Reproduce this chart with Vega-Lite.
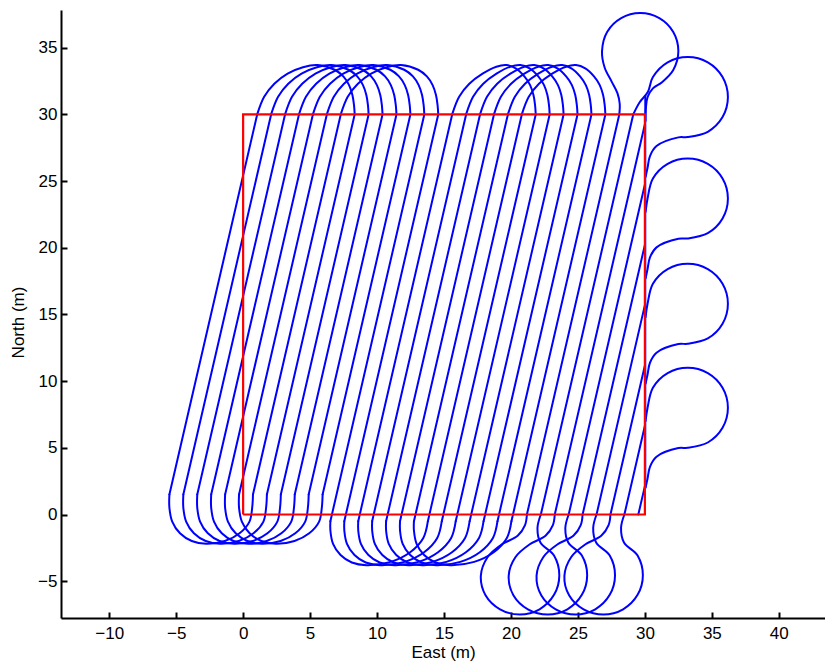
{
  "$schema": "https://vega.github.io/schema/vega-lite/v6.json",
  "width": 764,
  "height": 608,
  "autosize": {"type": "none"},
  "padding": {"left": 61, "top": 10, "right": 0, "bottom": 50},
  "background": "white",
  "config": {
    "view": {"stroke": null},
    "axis": {
      "grid": false,
      "domainColor": "black",
      "domainWidth": 2,
      "tickColor": "black",
      "tickWidth": 2,
      "tickSize": -6,
      "labelFont": "Liberation Sans",
      "labelFontSize": 17,
      "labelColor": "black",
      "titleFont": "Liberation Sans",
      "titleFontSize": 17,
      "titleFontWeight": "normal",
      "titleColor": "black"
    }
  },
  "datasets": {
    "path": [
      {"s":"T0","i":0,"x":-5.505,"y":1.5},{"s":"T0","i":1,"x":1.05,"y":30},
      {"s":"T1","i":0,"x":-4.465,"y":1.5},{"s":"T1","i":1,"x":2.09,"y":30},
      {"s":"T2","i":0,"x":-3.425,"y":1.5},{"s":"T2","i":1,"x":3.13,"y":30},
      {"s":"T3","i":0,"x":-2.385,"y":1.5},{"s":"T3","i":1,"x":4.17,"y":30},
      {"s":"T4","i":0,"x":-1.345,"y":1.5},{"s":"T4","i":1,"x":5.21,"y":30},
      {"s":"T5","i":0,"x":-0.305,"y":1.5},{"s":"T5","i":1,"x":6.25,"y":30},
      {"s":"T6","i":0,"x":0.735,"y":1.5},{"s":"T6","i":1,"x":7.29,"y":30},
      {"s":"T7","i":0,"x":1.775,"y":1.5},{"s":"T7","i":1,"x":8.33,"y":30},
      {"s":"T8","i":0,"x":2.815,"y":1.5},{"s":"T8","i":1,"x":9.37,"y":30},
      {"s":"T9","i":0,"x":3.855,"y":1.5},{"s":"T9","i":1,"x":10.41,"y":30},
      {"s":"T10","i":0,"x":4.895,"y":1.5},{"s":"T10","i":1,"x":11.45,"y":30},
      {"s":"T11","i":0,"x":5.935,"y":1.5},{"s":"T11","i":1,"x":12.49,"y":30},
      {"s":"T12","i":0,"x":6.515,"y":-0.5},{"s":"T12","i":1,"x":13.53,"y":30},
      {"s":"T13","i":0,"x":7.555,"y":-0.5},{"s":"T13","i":1,"x":14.57,"y":30},
      {"s":"T14","i":0,"x":8.595,"y":-0.5},{"s":"T14","i":1,"x":15.61,"y":30},
      {"s":"T15","i":0,"x":9.635,"y":-0.5},{"s":"T15","i":1,"x":16.65,"y":30},
      {"s":"T16","i":0,"x":10.675,"y":-0.5},{"s":"T16","i":1,"x":17.69,"y":30},
      {"s":"T17","i":0,"x":11.715,"y":-0.5},{"s":"T17","i":1,"x":18.73,"y":30},
      {"s":"T18","i":0,"x":12.755,"y":-0.5},{"s":"T18","i":1,"x":19.77,"y":30},
      {"s":"T19","i":0,"x":13.795,"y":-0.5},{"s":"T19","i":1,"x":20.81,"y":30},
      {"s":"T20","i":0,"x":14.835,"y":-0.5},{"s":"T20","i":1,"x":21.85,"y":30},
      {"s":"T21","i":0,"x":15.875,"y":-0.5},{"s":"T21","i":1,"x":22.89,"y":30},
      {"s":"T22","i":0,"x":16.915,"y":-0.5},{"s":"T22","i":1,"x":23.93,"y":30},
      {"s":"T23","i":0,"x":17.955,"y":-0.5},{"s":"T23","i":1,"x":24.97,"y":30},
      {"s":"T24","i":0,"x":18.995,"y":-0.5},{"s":"T24","i":1,"x":26.01,"y":30},
      {"s":"T25","i":0,"x":20.035,"y":-0.5},{"s":"T25","i":1,"x":27.05,"y":30},
      {"s":"T26","i":0,"x":21.19,"y":0},{"s":"T26","i":1,"x":28.09,"y":30},
      {"s":"T27","i":0,"x":22.23,"y":0},{"s":"T27","i":1,"x":29.13,"y":30},
      {"s":"T28","i":0,"x":23.27,"y":0},{"s":"T28","i":1,"x":30,"y":29.26},
      {"s":"T29","i":0,"x":24.31,"y":0},{"s":"T29","i":1,"x":30,"y":24.74},
      {"s":"T30","i":0,"x":25.35,"y":0},{"s":"T30","i":1,"x":30,"y":20.22},
      {"s":"T31","i":0,"x":26.39,"y":0},{"s":"T31","i":1,"x":30,"y":15.7},
      {"s":"T32","i":0,"x":27.43,"y":0},{"s":"T32","i":1,"x":30,"y":11.17},
      {"s":"T33","i":0,"x":28.47,"y":0},{"s":"T33","i":1,"x":30,"y":6.65},
      {"s":"T34","i":0,"x":29.51,"y":0},{"s":"T34","i":1,"x":30,"y":2.13},
      {"s":"E","i":0,"x":30.03,"y":2},{"s":"E","i":1,"x":30.03,"y":31.4},

      {"s":"A0","i":0,"x":-5.505,"y":1.5},{"s":"A0","i":1,"x":-5.505,"y":0.5},{"s":"A0","i":2,"x":-5.295,"y":-0.53},{"s":"A0","i":3,"x":-4.715,"y":-1.41},{"s":"A0","i":4,"x":-3.835,"y":-1.99},{"s":"A0","i":5,"x":-2.755,"y":-2.2},{"s":"A0","i":6,"x":-1.365,"y":-1.99},{"s":"A0","i":7,"x":-0.265,"y":-1.41},{"s":"A0","i":8,"x":0.475,"y":-0.53},{"s":"A0","i":9,"x":0.675,"y":0.5},{"s":"A0","i":10,"x":0.735,"y":1.5},
      {"s":"A1","i":0,"x":-4.465,"y":1.5},{"s":"A1","i":1,"x":-4.465,"y":0.5},{"s":"A1","i":2,"x":-4.255,"y":-0.53},{"s":"A1","i":3,"x":-3.675,"y":-1.41},{"s":"A1","i":4,"x":-2.795,"y":-1.99},{"s":"A1","i":5,"x":-1.715,"y":-2.2},{"s":"A1","i":6,"x":-0.325,"y":-1.99},{"s":"A1","i":7,"x":0.775,"y":-1.41},{"s":"A1","i":8,"x":1.515,"y":-0.53},{"s":"A1","i":9,"x":1.715,"y":0.5},{"s":"A1","i":10,"x":1.775,"y":1.5},
      {"s":"A2","i":0,"x":-3.425,"y":1.5},{"s":"A2","i":1,"x":-3.425,"y":0.5},{"s":"A2","i":2,"x":-3.215,"y":-0.53},{"s":"A2","i":3,"x":-2.635,"y":-1.41},{"s":"A2","i":4,"x":-1.755,"y":-1.99},{"s":"A2","i":5,"x":-0.675,"y":-2.2},{"s":"A2","i":6,"x":0.715,"y":-1.99},{"s":"A2","i":7,"x":1.815,"y":-1.41},{"s":"A2","i":8,"x":2.555,"y":-0.53},{"s":"A2","i":9,"x":2.755,"y":0.5},{"s":"A2","i":10,"x":2.815,"y":1.5},
      {"s":"A3","i":0,"x":-2.385,"y":1.5},{"s":"A3","i":1,"x":-2.385,"y":0.5},{"s":"A3","i":2,"x":-2.175,"y":-0.53},{"s":"A3","i":3,"x":-1.595,"y":-1.41},{"s":"A3","i":4,"x":-0.715,"y":-1.99},{"s":"A3","i":5,"x":0.365,"y":-2.2},{"s":"A3","i":6,"x":1.755,"y":-1.99},{"s":"A3","i":7,"x":2.855,"y":-1.41},{"s":"A3","i":8,"x":3.595,"y":-0.53},{"s":"A3","i":9,"x":3.795,"y":0.5},{"s":"A3","i":10,"x":3.855,"y":1.5},
      {"s":"A4","i":0,"x":-1.345,"y":1.5},{"s":"A4","i":1,"x":-1.345,"y":0.5},{"s":"A4","i":2,"x":-1.135,"y":-0.53},{"s":"A4","i":3,"x":-0.555,"y":-1.41},{"s":"A4","i":4,"x":0.325,"y":-1.99},{"s":"A4","i":5,"x":1.405,"y":-2.2},{"s":"A4","i":6,"x":2.795,"y":-1.99},{"s":"A4","i":7,"x":3.895,"y":-1.41},{"s":"A4","i":8,"x":4.635,"y":-0.53},{"s":"A4","i":9,"x":4.835,"y":0.5},{"s":"A4","i":10,"x":4.895,"y":1.5},
      {"s":"A5","i":0,"x":-0.305,"y":1.5},{"s":"A5","i":1,"x":-0.305,"y":0.5},{"s":"A5","i":2,"x":-0.095,"y":-0.53},{"s":"A5","i":3,"x":0.485,"y":-1.41},{"s":"A5","i":4,"x":1.365,"y":-1.99},{"s":"A5","i":5,"x":2.445,"y":-2.2},{"s":"A5","i":6,"x":3.835,"y":-1.99},{"s":"A5","i":7,"x":4.935,"y":-1.41},{"s":"A5","i":8,"x":5.675,"y":-0.53},{"s":"A5","i":9,"x":5.875,"y":0.5},{"s":"A5","i":10,"x":5.935,"y":1.5},

      {"s":"B12","i":0,"x":6.515,"y":-0.5},{"s":"B12","i":1,"x":6.515,"y":-1.2},{"s":"B12","i":2,"x":6.715,"y":-2.2},{"s":"B12","i":3,"x":7.275,"y":-3.04},{"s":"B12","i":4,"x":8.115,"y":-3.6},{"s":"B12","i":5,"x":9.215,"y":-3.8},{"s":"B12","i":6,"x":11.015,"y":-3.55},{"s":"B12","i":7,"x":12.475,"y":-2.83},{"s":"B12","i":8,"x":13.455,"y":-1.76},{"s":"B12","i":9,"x":13.795,"y":-0.5},
      {"s":"B13","i":0,"x":7.555,"y":-0.5},{"s":"B13","i":1,"x":7.555,"y":-1.2},{"s":"B13","i":2,"x":7.755,"y":-2.2},{"s":"B13","i":3,"x":8.315,"y":-3.04},{"s":"B13","i":4,"x":9.155,"y":-3.6},{"s":"B13","i":5,"x":10.255,"y":-3.8},{"s":"B13","i":6,"x":12.055,"y":-3.55},{"s":"B13","i":7,"x":13.515,"y":-2.83},{"s":"B13","i":8,"x":14.495,"y":-1.76},{"s":"B13","i":9,"x":14.835,"y":-0.5},
      {"s":"B14","i":0,"x":8.595,"y":-0.5},{"s":"B14","i":1,"x":8.595,"y":-1.2},{"s":"B14","i":2,"x":8.795,"y":-2.2},{"s":"B14","i":3,"x":9.355,"y":-3.04},{"s":"B14","i":4,"x":10.195,"y":-3.6},{"s":"B14","i":5,"x":11.295,"y":-3.8},{"s":"B14","i":6,"x":13.095,"y":-3.55},{"s":"B14","i":7,"x":14.555,"y":-2.83},{"s":"B14","i":8,"x":15.535,"y":-1.76},{"s":"B14","i":9,"x":15.875,"y":-0.5},
      {"s":"B15","i":0,"x":9.635,"y":-0.5},{"s":"B15","i":1,"x":9.635,"y":-1.2},{"s":"B15","i":2,"x":9.835,"y":-2.2},{"s":"B15","i":3,"x":10.395,"y":-3.04},{"s":"B15","i":4,"x":11.235,"y":-3.6},{"s":"B15","i":5,"x":12.335,"y":-3.8},{"s":"B15","i":6,"x":14.135,"y":-3.55},{"s":"B15","i":7,"x":15.595,"y":-2.83},{"s":"B15","i":8,"x":16.575,"y":-1.76},{"s":"B15","i":9,"x":16.915,"y":-0.5},
      {"s":"B16","i":0,"x":10.675,"y":-0.5},{"s":"B16","i":1,"x":10.675,"y":-1.2},{"s":"B16","i":2,"x":10.875,"y":-2.2},{"s":"B16","i":3,"x":11.435,"y":-3.04},{"s":"B16","i":4,"x":12.275,"y":-3.6},{"s":"B16","i":5,"x":13.375,"y":-3.8},{"s":"B16","i":6,"x":15.175,"y":-3.55},{"s":"B16","i":7,"x":16.635,"y":-2.83},{"s":"B16","i":8,"x":17.615,"y":-1.76},{"s":"B16","i":9,"x":17.955,"y":-0.5},
      {"s":"B17","i":0,"x":11.715,"y":-0.5},{"s":"B17","i":1,"x":11.715,"y":-1.2},{"s":"B17","i":2,"x":11.915,"y":-2.2},{"s":"B17","i":3,"x":12.475,"y":-3.04},{"s":"B17","i":4,"x":13.315,"y":-3.6},{"s":"B17","i":5,"x":14.415,"y":-3.8},{"s":"B17","i":6,"x":16.215,"y":-3.55},{"s":"B17","i":7,"x":17.675,"y":-2.83},{"s":"B17","i":8,"x":18.655,"y":-1.76},{"s":"B17","i":9,"x":18.995,"y":-0.5},
      {"s":"B18","i":0,"x":12.755,"y":-0.5},{"s":"B18","i":1,"x":12.755,"y":-1.2},{"s":"B18","i":2,"x":12.955,"y":-2.2},{"s":"B18","i":3,"x":13.515,"y":-3.04},{"s":"B18","i":4,"x":14.355,"y":-3.6},{"s":"B18","i":5,"x":15.455,"y":-3.8},{"s":"B18","i":6,"x":17.255,"y":-3.55},{"s":"B18","i":7,"x":18.715,"y":-2.83},{"s":"B18","i":8,"x":19.695,"y":-1.76},{"s":"B18","i":9,"x":20.035,"y":-0.5},

      {"s":"U0","i":0,"x":1.05,"y":30},{"s":"U0","i":1,"x":1.57,"y":31.32},{"s":"U0","i":2,"x":2.33,"y":32.3},{"s":"U0","i":3,"x":3.32,"y":33.06},{"s":"U0","i":4,"x":4.47,"y":33.54},{"s":"U0","i":5,"x":5.55,"y":33.7},{"s":"U0","i":6,"x":6.83,"y":33.35},{"s":"U0","i":7,"x":7.48,"y":32.85},{"s":"U0","i":8,"x":7.91,"y":32.2},{"s":"U0","i":9,"x":8.16,"y":31.45},{"s":"U0","i":10,"x":8.28,"y":30.7},{"s":"U0","i":11,"x":8.33,"y":30},
      {"s":"U1","i":0,"x":2.09,"y":30},{"s":"U1","i":1,"x":2.61,"y":31.32},{"s":"U1","i":2,"x":3.37,"y":32.3},{"s":"U1","i":3,"x":4.36,"y":33.06},{"s":"U1","i":4,"x":5.51,"y":33.54},{"s":"U1","i":5,"x":6.59,"y":33.7},{"s":"U1","i":6,"x":7.87,"y":33.35},{"s":"U1","i":7,"x":8.52,"y":32.85},{"s":"U1","i":8,"x":8.95,"y":32.2},{"s":"U1","i":9,"x":9.2,"y":31.45},{"s":"U1","i":10,"x":9.32,"y":30.7},{"s":"U1","i":11,"x":9.37,"y":30},
      {"s":"U2","i":0,"x":3.13,"y":30},{"s":"U2","i":1,"x":3.65,"y":31.32},{"s":"U2","i":2,"x":4.41,"y":32.3},{"s":"U2","i":3,"x":5.4,"y":33.06},{"s":"U2","i":4,"x":6.55,"y":33.54},{"s":"U2","i":5,"x":7.63,"y":33.7},{"s":"U2","i":6,"x":8.91,"y":33.35},{"s":"U2","i":7,"x":9.56,"y":32.85},{"s":"U2","i":8,"x":9.99,"y":32.2},{"s":"U2","i":9,"x":10.24,"y":31.45},{"s":"U2","i":10,"x":10.36,"y":30.7},{"s":"U2","i":11,"x":10.41,"y":30},
      {"s":"U3","i":0,"x":4.17,"y":30},{"s":"U3","i":1,"x":4.69,"y":31.32},{"s":"U3","i":2,"x":5.45,"y":32.3},{"s":"U3","i":3,"x":6.44,"y":33.06},{"s":"U3","i":4,"x":7.59,"y":33.54},{"s":"U3","i":5,"x":8.67,"y":33.7},{"s":"U3","i":6,"x":9.95,"y":33.35},{"s":"U3","i":7,"x":10.6,"y":32.85},{"s":"U3","i":8,"x":11.03,"y":32.2},{"s":"U3","i":9,"x":11.28,"y":31.45},{"s":"U3","i":10,"x":11.4,"y":30.7},{"s":"U3","i":11,"x":11.45,"y":30},
      {"s":"U4","i":0,"x":5.21,"y":30},{"s":"U4","i":1,"x":5.73,"y":31.32},{"s":"U4","i":2,"x":6.49,"y":32.3},{"s":"U4","i":3,"x":7.48,"y":33.06},{"s":"U4","i":4,"x":8.63,"y":33.54},{"s":"U4","i":5,"x":9.71,"y":33.7},{"s":"U4","i":6,"x":10.99,"y":33.35},{"s":"U4","i":7,"x":11.64,"y":32.85},{"s":"U4","i":8,"x":12.07,"y":32.2},{"s":"U4","i":9,"x":12.32,"y":31.45},{"s":"U4","i":10,"x":12.44,"y":30.7},{"s":"U4","i":11,"x":12.49,"y":30},
      {"s":"U5","i":0,"x":6.25,"y":30},{"s":"U5","i":1,"x":6.77,"y":31.32},{"s":"U5","i":2,"x":7.53,"y":32.3},{"s":"U5","i":3,"x":8.52,"y":33.06},{"s":"U5","i":4,"x":9.67,"y":33.54},{"s":"U5","i":5,"x":10.75,"y":33.7},{"s":"U5","i":6,"x":12.03,"y":33.35},{"s":"U5","i":7,"x":12.68,"y":32.85},{"s":"U5","i":8,"x":13.11,"y":32.2},{"s":"U5","i":9,"x":13.36,"y":31.45},{"s":"U5","i":10,"x":13.48,"y":30.7},{"s":"U5","i":11,"x":13.53,"y":30},
      {"s":"U6","i":0,"x":7.29,"y":30},{"s":"U6","i":1,"x":7.81,"y":31.32},{"s":"U6","i":2,"x":8.57,"y":32.3},{"s":"U6","i":3,"x":9.56,"y":33.06},{"s":"U6","i":4,"x":10.71,"y":33.54},{"s":"U6","i":5,"x":11.79,"y":33.7},{"s":"U6","i":6,"x":13.07,"y":33.35},{"s":"U6","i":7,"x":13.72,"y":32.85},{"s":"U6","i":8,"x":14.15,"y":32.2},{"s":"U6","i":9,"x":14.4,"y":31.45},{"s":"U6","i":10,"x":14.52,"y":30.7},{"s":"U6","i":11,"x":14.57,"y":30},

      {"s":"V14","i":0,"x":15.61,"y":30},{"s":"V14","i":1,"x":16.13,"y":31.32},{"s":"V14","i":2,"x":16.89,"y":32.3},{"s":"V14","i":3,"x":17.88,"y":33.06},{"s":"V14","i":4,"x":18.91,"y":33.58},{"s":"V14","i":5,"x":19.66,"y":33.7},{"s":"V14","i":6,"x":20.35,"y":33.45},{"s":"V14","i":7,"x":21.0,"y":32.85},{"s":"V14","i":8,"x":21.43,"y":32.2},{"s":"V14","i":9,"x":21.68,"y":31.45},{"s":"V14","i":10,"x":21.8,"y":30.7},{"s":"V14","i":11,"x":21.85,"y":30},
      {"s":"V15","i":0,"x":16.65,"y":30},{"s":"V15","i":1,"x":17.17,"y":31.32},{"s":"V15","i":2,"x":17.93,"y":32.3},{"s":"V15","i":3,"x":18.92,"y":33.06},{"s":"V15","i":4,"x":19.95,"y":33.58},{"s":"V15","i":5,"x":20.7,"y":33.7},{"s":"V15","i":6,"x":21.39,"y":33.45},{"s":"V15","i":7,"x":22.04,"y":32.85},{"s":"V15","i":8,"x":22.47,"y":32.2},{"s":"V15","i":9,"x":22.72,"y":31.45},{"s":"V15","i":10,"x":22.84,"y":30.7},{"s":"V15","i":11,"x":22.89,"y":30},
      {"s":"V16","i":0,"x":17.69,"y":30},{"s":"V16","i":1,"x":18.21,"y":31.32},{"s":"V16","i":2,"x":18.97,"y":32.3},{"s":"V16","i":3,"x":19.96,"y":33.06},{"s":"V16","i":4,"x":20.99,"y":33.58},{"s":"V16","i":5,"x":21.74,"y":33.7},{"s":"V16","i":6,"x":22.43,"y":33.45},{"s":"V16","i":7,"x":23.08,"y":32.85},{"s":"V16","i":8,"x":23.51,"y":32.2},{"s":"V16","i":9,"x":23.76,"y":31.45},{"s":"V16","i":10,"x":23.88,"y":30.7},{"s":"V16","i":11,"x":23.93,"y":30},
      {"s":"V17","i":0,"x":18.73,"y":30},{"s":"V17","i":1,"x":19.25,"y":31.32},{"s":"V17","i":2,"x":20.01,"y":32.3},{"s":"V17","i":3,"x":21.0,"y":33.06},{"s":"V17","i":4,"x":22.03,"y":33.58},{"s":"V17","i":5,"x":22.78,"y":33.7},{"s":"V17","i":6,"x":23.47,"y":33.45},{"s":"V17","i":7,"x":24.12,"y":32.85},{"s":"V17","i":8,"x":24.55,"y":32.2},{"s":"V17","i":9,"x":24.8,"y":31.45},{"s":"V17","i":10,"x":24.92,"y":30.7},{"s":"V17","i":11,"x":24.97,"y":30},
      {"s":"V18","i":0,"x":19.77,"y":30},{"s":"V18","i":1,"x":20.29,"y":31.32},{"s":"V18","i":2,"x":21.05,"y":32.3},{"s":"V18","i":3,"x":22.04,"y":33.06},{"s":"V18","i":4,"x":23.07,"y":33.58},{"s":"V18","i":5,"x":23.82,"y":33.7},{"s":"V18","i":6,"x":24.51,"y":33.45},{"s":"V18","i":7,"x":25.16,"y":32.85},{"s":"V18","i":8,"x":25.59,"y":32.2},{"s":"V18","i":9,"x":25.84,"y":31.45},{"s":"V18","i":10,"x":25.96,"y":30.7},{"s":"V18","i":11,"x":26.01,"y":30},
      {"s":"V19","i":0,"x":20.81,"y":30},{"s":"V19","i":1,"x":21.33,"y":31.32},{"s":"V19","i":2,"x":22.09,"y":32.3},{"s":"V19","i":3,"x":23.08,"y":33.06},{"s":"V19","i":4,"x":24.11,"y":33.58},{"s":"V19","i":5,"x":24.86,"y":33.7},{"s":"V19","i":6,"x":25.55,"y":33.45},{"s":"V19","i":7,"x":26.2,"y":32.85},{"s":"V19","i":8,"x":26.63,"y":32.2},{"s":"V19","i":9,"x":26.88,"y":31.45},{"s":"V19","i":10,"x":27.0,"y":30.7},{"s":"V19","i":11,"x":27.05,"y":30},

      {"s":"C0","i":0,"x":21.19,"y":0},{"s":"C0","i":1,"x":21.05,"y":-0.8},{"s":"C0","i":2,"x":20.5,"y":-1.6},{"s":"C0","i":3,"x":19.3,"y":-2.25},{"s":"C0","i":4,"x":18.25,"y":-3.2},{"s":"C0","i":5,"x":17.75,"y":-4.6},{"s":"C0","i":6,"x":18.1,"y":-6.05},{"s":"C0","i":7,"x":19.185,"y":-7.105},{"s":"C0","i":8,"x":20.66,"y":-7.5},{"s":"C0","i":9,"x":22.135,"y":-7.105},{"s":"C0","i":10,"x":23.215,"y":-6.025},{"s":"C0","i":11,"x":23.61,"y":-4.55},{"s":"C0","i":12,"x":23.215,"y":-3.075},{"s":"C0","i":13,"x":22.2,"y":-2.1},{"s":"C0","i":14,"x":21.98,"y":-1.0},{"s":"C0","i":15,"x":22.23,"y":0},
      {"s":"C1","i":0,"x":23.27,"y":0},{"s":"C1","i":1,"x":23.13,"y":-0.8},{"s":"C1","i":2,"x":22.58,"y":-1.6},{"s":"C1","i":3,"x":21.38,"y":-2.25},{"s":"C1","i":4,"x":20.33,"y":-3.2},{"s":"C1","i":5,"x":19.83,"y":-4.6},{"s":"C1","i":6,"x":20.18,"y":-6.05},{"s":"C1","i":7,"x":21.265,"y":-7.105},{"s":"C1","i":8,"x":22.74,"y":-7.5},{"s":"C1","i":9,"x":24.215,"y":-7.105},{"s":"C1","i":10,"x":25.295,"y":-6.025},{"s":"C1","i":11,"x":25.69,"y":-4.55},{"s":"C1","i":12,"x":25.295,"y":-3.075},{"s":"C1","i":13,"x":24.28,"y":-2.1},{"s":"C1","i":14,"x":24.06,"y":-1.0},{"s":"C1","i":15,"x":24.31,"y":0},
      {"s":"C2","i":0,"x":25.35,"y":0},{"s":"C2","i":1,"x":25.21,"y":-0.8},{"s":"C2","i":2,"x":24.66,"y":-1.6},{"s":"C2","i":3,"x":23.46,"y":-2.25},{"s":"C2","i":4,"x":22.41,"y":-3.2},{"s":"C2","i":5,"x":21.91,"y":-4.6},{"s":"C2","i":6,"x":22.26,"y":-6.05},{"s":"C2","i":7,"x":23.345,"y":-7.105},{"s":"C2","i":8,"x":24.82,"y":-7.5},{"s":"C2","i":9,"x":26.295,"y":-7.105},{"s":"C2","i":10,"x":27.375,"y":-6.025},{"s":"C2","i":11,"x":27.77,"y":-4.55},{"s":"C2","i":12,"x":27.375,"y":-3.075},{"s":"C2","i":13,"x":26.36,"y":-2.1},{"s":"C2","i":14,"x":26.14,"y":-1.0},{"s":"C2","i":15,"x":26.39,"y":0},
      {"s":"C3","i":0,"x":27.43,"y":0},{"s":"C3","i":1,"x":27.29,"y":-0.8},{"s":"C3","i":2,"x":26.74,"y":-1.6},{"s":"C3","i":3,"x":25.54,"y":-2.25},{"s":"C3","i":4,"x":24.49,"y":-3.2},{"s":"C3","i":5,"x":23.99,"y":-4.6},{"s":"C3","i":6,"x":24.34,"y":-6.05},{"s":"C3","i":7,"x":25.425,"y":-7.105},{"s":"C3","i":8,"x":26.9,"y":-7.5},{"s":"C3","i":9,"x":28.375,"y":-7.105},{"s":"C3","i":10,"x":29.455,"y":-6.025},{"s":"C3","i":11,"x":29.85,"y":-4.55},{"s":"C3","i":12,"x":29.455,"y":-3.075},{"s":"C3","i":13,"x":28.44,"y":-2.1},{"s":"C3","i":14,"x":28.22,"y":-1.0},{"s":"C3","i":15,"x":28.47,"y":0},

      {"s":"L1","i":0,"x":30.05,"y":7.0},{"s":"L1","i":1,"x":30.2,"y":8.0},{"s":"L1","i":2,"x":30.6,"y":9.5},{"s":"L1","i":3,"x":31.7,"y":10.6},{"s":"L1","i":4,"x":33.2,"y":11.0},{"s":"L1","i":5,"x":34.7,"y":10.6},{"s":"L1","i":6,"x":35.8,"y":9.5},{"s":"L1","i":7,"x":36.2,"y":8.0},{"s":"L1","i":8,"x":35.8,"y":6.5},{"s":"L1","i":9,"x":34.7,"y":5.4},{"s":"L1","i":10,"x":33.2,"y":5.0},{"s":"L1","i":11,"x":32.5,"y":4.98},{"s":"L1","i":12,"x":30.87,"y":4.33},{"s":"L1","i":13,"x":30.38,"y":3.58},{"s":"L1","i":14,"x":30.2,"y":2.7},{"s":"L1","i":15,"x":30.05,"y":2.0},
      {"s":"L2","i":0,"x":30.05,"y":14.8},{"s":"L2","i":1,"x":30.2,"y":15.8},{"s":"L2","i":2,"x":30.6,"y":17.3},{"s":"L2","i":3,"x":31.7,"y":18.4},{"s":"L2","i":4,"x":33.2,"y":18.8},{"s":"L2","i":5,"x":34.7,"y":18.4},{"s":"L2","i":6,"x":35.8,"y":17.3},{"s":"L2","i":7,"x":36.2,"y":15.8},{"s":"L2","i":8,"x":35.8,"y":14.3},{"s":"L2","i":9,"x":34.7,"y":13.2},{"s":"L2","i":10,"x":33.2,"y":12.8},{"s":"L2","i":11,"x":32.5,"y":12.78},{"s":"L2","i":12,"x":30.87,"y":12.13},{"s":"L2","i":13,"x":30.38,"y":11.38},{"s":"L2","i":14,"x":30.2,"y":10.5},{"s":"L2","i":15,"x":30.05,"y":9.8},
      {"s":"L3","i":0,"x":30.05,"y":22.7},{"s":"L3","i":1,"x":30.2,"y":23.7},{"s":"L3","i":2,"x":30.6,"y":25.2},{"s":"L3","i":3,"x":31.7,"y":26.3},{"s":"L3","i":4,"x":33.2,"y":26.7},{"s":"L3","i":5,"x":34.7,"y":26.3},{"s":"L3","i":6,"x":35.8,"y":25.2},{"s":"L3","i":7,"x":36.2,"y":23.7},{"s":"L3","i":8,"x":35.8,"y":22.2},{"s":"L3","i":9,"x":34.7,"y":21.1},{"s":"L3","i":10,"x":33.2,"y":20.7},{"s":"L3","i":11,"x":32.5,"y":20.68},{"s":"L3","i":12,"x":30.87,"y":20.03},{"s":"L3","i":13,"x":30.38,"y":19.28},{"s":"L3","i":14,"x":30.2,"y":18.4},{"s":"L3","i":15,"x":30.05,"y":17.7},
      {"s":"L4","i":0,"x":29.13,"y":30},{"s":"L4","i":1,"x":29.6,"y":30.9},{"s":"L4","i":2,"x":30.23,"y":31.7},{"s":"L4","i":3,"x":30.6,"y":32.8},{"s":"L4","i":4,"x":31.7,"y":33.9},{"s":"L4","i":5,"x":33.2,"y":34.3},{"s":"L4","i":6,"x":34.7,"y":33.9},{"s":"L4","i":7,"x":35.8,"y":32.8},{"s":"L4","i":8,"x":36.2,"y":31.3},{"s":"L4","i":9,"x":35.8,"y":29.8},{"s":"L4","i":10,"x":34.7,"y":28.7},{"s":"L4","i":11,"x":33.2,"y":28.3},{"s":"L4","i":12,"x":32.5,"y":28.28},{"s":"L4","i":13,"x":30.87,"y":27.63},{"s":"L4","i":14,"x":30.38,"y":26.88},{"s":"L4","i":15,"x":30.2,"y":26.0},{"s":"L4","i":16,"x":30.05,"y":25.3},

      {"s":"TB","i":0,"x":28.09,"y":30},{"s":"TB","i":1,"x":28.12,"y":30.8},{"s":"TB","i":2,"x":27.95,"y":31.6},{"s":"TB","i":3,"x":27.5,"y":32.5},{"s":"TB","i":4,"x":27.0,"y":33.5},{"s":"TB","i":5,"x":26.8,"y":34.75},{"s":"TB","i":6,"x":27.18,"y":36.18},{"s":"TB","i":7,"x":28.23,"y":37.22},{"s":"TB","i":8,"x":29.65,"y":37.6},{"s":"TB","i":9,"x":31.08,"y":37.22},{"s":"TB","i":10,"x":32.12,"y":36.18},{"s":"TB","i":11,"x":32.5,"y":34.75},{"s":"TB","i":12,"x":32.12,"y":33.33},{"s":"TB","i":13,"x":31.28,"y":32.42},{"s":"TB","i":14,"x":30.6,"y":31.95},{"s":"TB","i":15,"x":30.2,"y":31.3},{"s":"TB","i":16,"x":30.08,"y":30.5},{"s":"TB","i":17,"x":30.05,"y":29.5}
    ],
    "field": [
      {"i":0,"x":0,"y":0},{"i":1,"x":30,"y":0},{"i":2,"x":30,"y":30},{"i":3,"x":0,"y":30},{"i":4,"x":0,"y":0}
    ]
  },
  "encoding": {
    "x": {
      "field": "x", "type": "quantitative",
      "scale": {"domain": [-13.6, 43.45], "nice": false, "zero": false},
      "axis": {"values": [-10, -5, 0, 5, 10, 15, 20, 25, 30, 35, 40], "title": "East (m)", "labelPadding": 13, "titlePadding": 3}
    },
    "y": {
      "field": "y", "type": "quantitative",
      "scale": {"domain": [-7.76, 37.83], "nice": false, "zero": false},
      "axis": {"values": [-5, 0, 5, 10, 15, 20, 25, 30, 35], "title": "North (m)", "labelPadding": 10, "titlePadding": 10, "titleY": 312}
    },
    "order": {"field": "i", "type": "quantitative"}
  },
  "layer": [
    {
      "data": {"name": "path"},
      "mark": {"type": "line", "color": "#0000ff", "strokeWidth": 2, "interpolate": "catmull-rom", "strokeCap": "round", "strokeJoin": "round"},
      "encoding": {"detail": {"field": "s", "type": "nominal"}}
    },
    {
      "data": {"name": "field"},
      "mark": {"type": "line", "color": "#ff0000", "strokeWidth": 2.2, "strokeJoin": "miter"},
      "encoding": {}
    }
  ]
}
